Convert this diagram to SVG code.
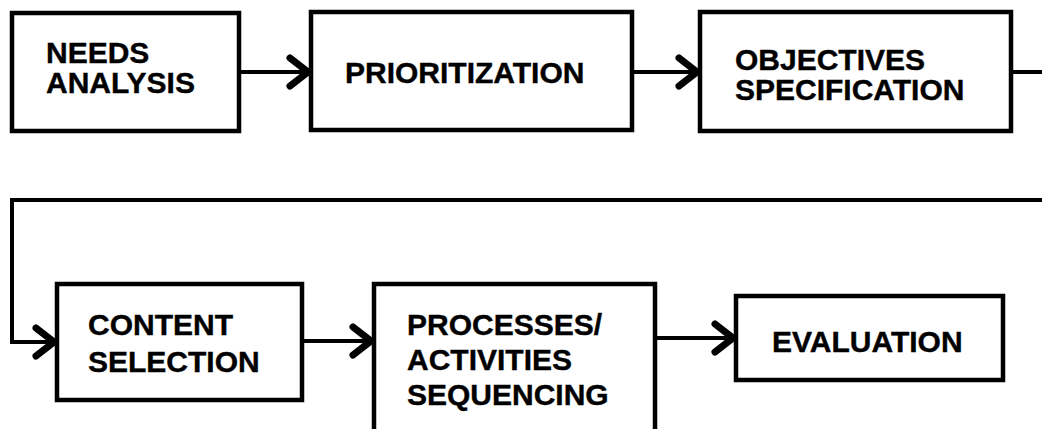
<svg xmlns="http://www.w3.org/2000/svg" width="1042" height="429" viewBox="0 0 1042 429">
  <defs>
    <marker id="chev" markerUnits="userSpaceOnUse" viewBox="-24 -20 28 40" refX="0" refY="0" markerWidth="28" markerHeight="40" orient="auto" overflow="visible">
      <path d="M-19,-14 L-1,0 L-19,14" fill="none" stroke="#000" stroke-width="7" stroke-linecap="round" stroke-linejoin="miter"/>
    </marker>
    <style>
      .box { fill: #fff; stroke: #000; stroke-width: 4.5; }
      .lbl { font-family: "Liberation Sans", Arial, sans-serif; font-weight: bold; font-size: 30px; fill: #000; stroke: #000; stroke-width: 0.4; }
      .conn { fill: none; stroke: #000; stroke-width: 4; stroke-linejoin: miter; }
    </style>
  </defs>
  <rect width="1042" height="429" fill="#fff"/>

  <g id="connectors">
    <path class="conn" d="M239,72 H309" marker-end="url(#chev)"/>
    <path class="conn" d="M632,72 H698" marker-end="url(#chev)"/>
    <path class="conn" d="M1011,72 H1070 V200 H12 V342 H55" marker-end="url(#chev)"/>
    <path class="conn" d="M302,341 H372" marker-end="url(#chev)"/>
    <path class="conn" d="M655,338 H734" marker-end="url(#chev)"/>
  </g>

  <g id="needs-analysis">
    <rect class="box" x="12" y="13" width="227" height="118"/>
    <text class="lbl" x="46" y="63">NEEDS</text>
    <text class="lbl" x="46" y="93">ANALYSIS</text>
  </g>

  <g id="prioritization">
    <rect class="box" x="311" y="12" width="321" height="118"/>
    <text class="lbl" x="345" y="83">PRIORITIZATION</text>
  </g>

  <g id="objectives-specification">
    <rect class="box" x="700" y="12" width="311" height="119"/>
    <text class="lbl" x="735" y="70">OBJECTIVES</text>
    <text class="lbl" x="735" y="100">SPECIFICATION</text>
  </g>

  <g id="content-selection">
    <rect class="box" x="57" y="284" width="245" height="116"/>
    <text class="lbl" x="88" y="335">CONTENT</text>
    <text class="lbl" x="88" y="372">SELECTION</text>
  </g>

  <g id="processes-activities-sequencing">
    <rect class="box" x="374" y="284" width="281" height="170"/>
    <text class="lbl" x="407" y="335">PROCESSES/</text>
    <text class="lbl" x="407" y="370">ACTIVITIES</text>
    <text class="lbl" x="407" y="405">SEQUENCING</text>
  </g>

  <g id="evaluation">
    <rect class="box" x="736" y="296" width="267" height="84"/>
    <text class="lbl" x="772" y="352">EVALUATION</text>
  </g>
</svg>
